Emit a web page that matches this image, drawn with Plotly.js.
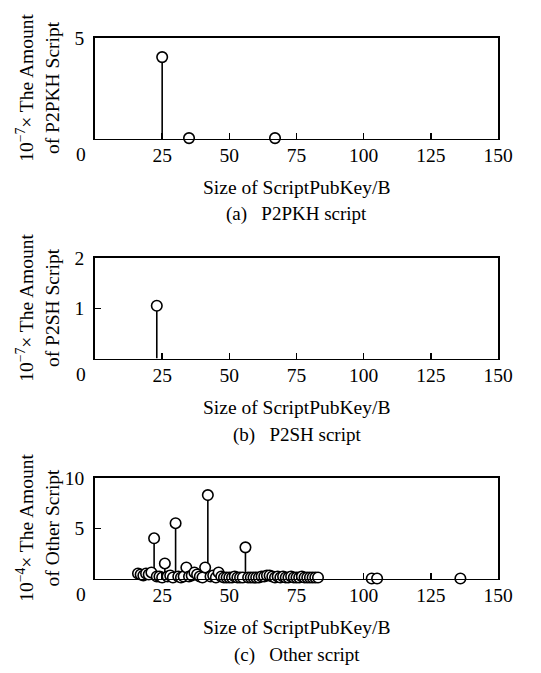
<!DOCTYPE html>
<html>
<head>
<meta charset="utf-8">
<script src="https://cdn.plot.ly/plotly-3.0.1.min.js"></script>
<style>html,body{margin:0;padding:0;background:#fff;}#chart{width:541px;height:673px;}</style>
</head>
<body>
<div id="chart"></div>
<script>
// ---- data ----
const p2pkhSize = [25, 35, 67];
const p2pkhAmount = [4.05, 0.02, 0.02];

const p2shSize = [23];
const p2shAmount = [1.05];

const otherSize = [16,17,18,19,20,21,22,23,24,25,26,27,28,29,30,31,32,33,34,35,36,37,38,39,40,41,42,43,44,45,46,47,48,49,50,51,52,53,54,55,56,57,58,59,60,61,62,63,64,65,66,67,68,69,70,71,72,73,74,75,76,77,78,79,80,81,82,83,103,105,136];
const otherAmount = [0.5,0.4,0.3,0.5,0.4,0.6,4.0,0.2,0.2,0.1,1.5,0.2,0.3,0.1,5.5,0.2,0.1,0.2,1.1,0.2,0.3,0.6,0.4,0.2,0.1,1.1,8.3,0.2,0.3,0.1,0.6,0.2,0.1,0.1,0.1,0.1,0.2,0.1,0.1,0.1,3.1,0.1,0.1,0.1,0.1,0.1,0.2,0.2,0.3,0.3,0.2,0.1,0.2,0.1,0.2,0.1,0.1,0.2,0.1,0.1,0.1,0.2,0.1,0.1,0.1,0.1,0.1,0.1,0,0,0];

const xTickVals = [25, 50, 75, 100, 125, 150];
const yTicks1 = [5];
const yTicks2 = [1, 2];
const yTicks3 = [5, 10];
const yRanges = [[0, 5], [0, 2], [0, 10]];

const xTitle = "Size of ScriptPubKey/B";
const yTitles = [
  "10<sup>\u22127</sup>\u00d7 The Amount<br>of P2PKH Script",
  "10<sup>\u22127</sup>\u00d7 The Amount<br>of P2SH Script",
  "10<sup>\u22124</sup>\u00d7 The Amount<br>of Other Script"
];
const captions = ["(a)\u2002 P2PKH script", "(b)\u2002 P2SH script", "(c)\u2002 Other script"];

// ---- layout helpers ----
const W = 541, H = 673;
const FONT = "Liberation Serif, Times New Roman, serif";
const plotLeft = 95, plotRight = 498;
const plotTops = [38, 258, 478];
const plotH = 100.5;
const py = p => 1 - p / H;
const px = p => p / W;

function stem(xs, ys, xa, ya) {
  return {
    type: 'scatter', mode: 'markers', x: xs, y: ys, xaxis: xa, yaxis: ya,
    cliponaxis: false,
    marker: {symbol: 'circle', size: 10.5, color: 'white', line: {color: 'black', width: 1.6}},
    error_y: {type: 'data', symmetric: false, array: ys.map(() => 0), arrayminus: ys,
              width: 0, thickness: 1.6, color: 'black'},
    showlegend: false, hoverinfo: 'x+y'
  };
}

const data = [
  stem(p2pkhSize, p2pkhAmount, 'x', 'y'),
  stem(p2shSize, p2shAmount, 'x2', 'y2'),
  stem(otherSize, otherAmount, 'x3', 'y3')
];

const layout = {
  width: W, height: H,
  margin: {l: 0, r: 0, t: 0, b: 0},
  paper_bgcolor: 'white', plot_bgcolor: 'white',
  font: {family: FONT, size: 19, color: 'black'},
  showlegend: false,
  annotations: []
};

const yTickSets = [yTicks1, yTicks2, yTicks3];
for (let i = 0; i < 3; i++) {
  const sfx = i === 0 ? '' : String(i + 1);
  const top = plotTops[i], bot = top + plotH;
  layout['xaxis' + sfx] = {
    domain: [px(plotLeft), px(plotRight)], anchor: 'y' + sfx,
    range: [0, 150], tickvals: xTickVals, ticktext: xTickVals.map(String),
    ticks: 'inside', ticklen: 6, tickwidth: 1.5, tickcolor: 'black',
    showline: true, mirror: true, linecolor: 'black', linewidth: 1.8,
    showgrid: false, zeroline: false, ticklabelstandoff: -2,
    tickfont: {family: FONT, size: 19.5, color: 'black'}
  };
  layout['yaxis' + sfx] = {
    domain: [py(bot), py(top)], anchor: 'x' + sfx,
    range: yRanges[i], tickvals: yTickSets[i], ticktext: yTickSets[i].map(String),
    ticks: 'inside', ticklen: 6, tickwidth: 1.5, tickcolor: 'black',
    showline: true, mirror: true, linecolor: 'black', linewidth: 1.8,
    showgrid: false, zeroline: false, ticklabelstandoff: 5,
    tickfont: {family: FONT, size: 19.5, color: 'black'}
  };
  // origin label
  layout.annotations.push({xref: 'paper', yref: 'paper', x: px(81), y: py(bot + 16),
    text: '0', showarrow: false, xanchor: 'center', yanchor: 'middle',
    font: {family: FONT, size: 19.5}});
  // x title
  layout.annotations.push({xref: 'paper', yref: 'paper', x: px((plotLeft + plotRight) / 2), y: py(bot + 49),
    text: xTitle, showarrow: false, xanchor: 'center', yanchor: 'middle',
    font: {family: FONT, size: 19.5}});
  // caption
  layout.annotations.push({xref: 'paper', yref: 'paper', x: px((plotLeft + plotRight) / 2), y: py(bot + 76),
    text: captions[i], showarrow: false, xanchor: 'center', yanchor: 'middle',
    font: {family: FONT, size: 19}});
  // y title
  layout.annotations.push({xref: 'paper', yref: 'paper', x: px(38.5), y: py(top + plotH / 2),
    text: yTitles[i], showarrow: false, xanchor: 'center', yanchor: 'middle', textangle: -90,
    font: {family: FONT, size: 19.5}});
}

Plotly.newPlot('chart', data, layout, {displayModeBar: false, staticPlot: true});
</script>
</body>
</html>
